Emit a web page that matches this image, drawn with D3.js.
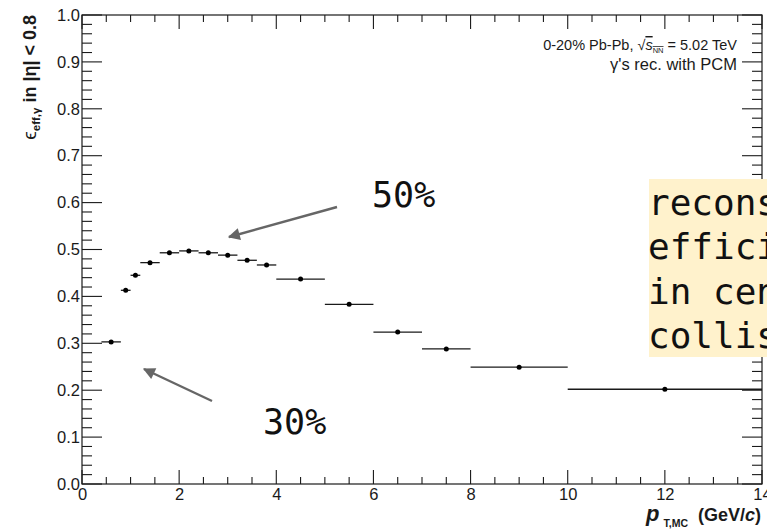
<!DOCTYPE html>
<html>
<head>
<meta charset="utf-8">
<script src="https://cdn.jsdelivr.net/npm/d3@7"></script>
<style>
  html, body { margin: 0; padding: 0; background: #fff; }
  svg { display: block; }
</style>
</head>
<body>
<svg id="chart" width="767" height="531"></svg>
<script>
// Photon reconstruction efficiency per pT bin (bin edges, centre, value)
const binLow    = [0.4, 0.8, 1.0, 1.2, 1.6, 2.0, 2.4, 2.8, 3.2, 3.6, 4.0, 5.0, 6.0, 7.0, 8.0, 10.0];
const binHigh   = [0.8, 1.0, 1.2, 1.6, 2.0, 2.4, 2.8, 3.2, 3.6, 4.0, 5.0, 6.0, 7.0, 8.0, 10.0, 14.0];
const ptCenter  = [0.6, 0.9, 1.1, 1.4, 1.8, 2.2, 2.6, 3.0, 3.4, 3.8, 4.5, 5.5, 6.5, 7.5, 9.0, 12.0];
const efficiency = [0.303, 0.413, 0.445, 0.472, 0.493, 0.497, 0.493, 0.488, 0.477, 0.467, 0.437, 0.383, 0.324, 0.288, 0.249, 0.202];

// Axis ticks
const xMajorTicks = [0, 2, 4, 6, 8, 10, 12, 14];
const xMinorTicks = [0.5, 1, 1.5, 2.5, 3, 3.5, 4.5, 5, 5.5, 6.5, 7, 7.5, 8.5, 9, 9.5, 10.5, 11, 11.5, 12.5, 13, 13.5];
const yMajorTicks = [0, 0.1, 0.2, 0.3, 0.4, 0.5, 0.6, 0.7, 0.8, 0.9, 1.0];
const yMinorTicks = [0.02, 0.04, 0.06, 0.08, 0.12, 0.14, 0.16, 0.18, 0.22, 0.24, 0.26, 0.28,
                     0.32, 0.34, 0.36, 0.38, 0.42, 0.44, 0.46, 0.48, 0.52, 0.54, 0.56, 0.58,
                     0.62, 0.64, 0.66, 0.68, 0.72, 0.74, 0.76, 0.78, 0.82, 0.84, 0.86, 0.88,
                     0.92, 0.94, 0.96, 0.98];

// Annotations
const noteLabels = ["50%", "30%"];
const noteLines = ["reconstruction", "efficiency", "in central", "collisions"];
const systemLabel = ["0-20% Pb-Pb, ", "s", "NN", " = 5.02 TeV"];
const methodLabel = "\u03b3's rec. with PCM";

const svg = d3.select("#chart");
const W = 767, H = 531;
const margin = { left: 82, right: 5, top: 15, bottom: 47 };
const x = d3.scaleLinear().domain([0, 14]).range([margin.left, W - margin.right]);
const y = d3.scaleLinear().domain([0, 1]).range([H - margin.bottom, margin.top]);

const ink = "#1a1a1a";
const sans = "'Liberation Sans', Arial, Helvetica, sans-serif";
const mono = "'DejaVu Sans Mono', monospace";

// ---- frame ----
svg.append("rect")
  .attr("x", x(0)).attr("y", y(1))
  .attr("width", x(14) - x(0)).attr("height", y(0) - y(1))
  .attr("fill", "none").attr("stroke", ink).attr("stroke-width", 1.2);

// ---- tick marks on all four sides (pointing inwards) ----
const tickG = svg.append("g").attr("stroke", ink).attr("stroke-width", 1.1);
function xTicks(vals, len) {
  tickG.append("g").selectAll("line").data(vals).join("line")
    .attr("x1", d => x(d)).attr("x2", d => x(d))
    .attr("y1", y(0)).attr("y2", y(0) - len);
  tickG.append("g").selectAll("line").data(vals).join("line")
    .attr("x1", d => x(d)).attr("x2", d => x(d))
    .attr("y1", y(1)).attr("y2", y(1) + len);
}
function yTicks(vals, len) {
  tickG.append("g").selectAll("line").data(vals).join("line")
    .attr("y1", d => y(d)).attr("y2", d => y(d))
    .attr("x1", x(0)).attr("x2", x(0) + len);
  tickG.append("g").selectAll("line").data(vals).join("line")
    .attr("y1", d => y(d)).attr("y2", d => y(d))
    .attr("x1", x(14)).attr("x2", x(14) - len);
}
xTicks(xMinorTicks, 7);
xTicks(xMajorTicks, 14);
yTicks(yMinorTicks, 10);
yTicks(yMajorTicks, 20);

// ---- tick labels through d3 axes (no tick lines, no domain) ----
const xAxisG = svg.append("g").attr("transform", `translate(0,${y(0)})`)
  .call(d3.axisBottom(x).tickValues(xMajorTicks).tickSize(0).tickPadding(4).tickFormat(d3.format("d")));
const yAxisG = svg.append("g").attr("transform", `translate(${x(0)},0)`)
  .call(d3.axisLeft(y).tickValues(yMajorTicks).tickSize(0).tickPadding(2).tickFormat(d3.format(".1f")));
[xAxisG, yAxisG].forEach(g => {
  g.select(".domain").remove();
  g.selectAll("line").remove();
  g.selectAll("text").attr("fill", ink).attr("font-size", 16.5).attr("font-family", sans);
});

// ---- data points with horizontal bin-width bars ----
const points = ptCenter.map((c, i) => ({ c, lo: binLow[i], hi: binHigh[i], v: efficiency[i] }));
const pts = svg.append("g");
pts.selectAll("line.bin").data(points).join("line")
  .attr("class", "bin")
  .attr("x1", d => x(d.lo)).attr("x2", d => x(d.hi))
  .attr("y1", d => y(d.v)).attr("y2", d => y(d.v))
  .attr("stroke", ink).attr("stroke-width", 1.3);
pts.selectAll("circle").data(points).join("circle")
  .attr("cx", d => x(d.c)).attr("cy", d => y(d.v)).attr("r", 2.5)
  .attr("fill", "#000");

// ---- axis titles ----
const yTitle = svg.append("text")
  .attr("transform", `translate(36,${y(1)}) rotate(-90)`)
  .attr("text-anchor", "end")
  .attr("font-family", sans).attr("fill", ink);
yTitle.append("tspan").attr("font-size", 19).text("\u03f5");
yTitle.append("tspan").attr("font-size", 11.5).attr("font-weight", "bold").attr("dy", 4).text("eff,\u03b3");
yTitle.append("tspan").attr("font-size", 18).attr("font-weight", "bold").attr("dy", -4).text(" in |\u03b7| < 0.8");

const xTitle = svg.append("text")
  .attr("x", 761).attr("y", 521)
  .attr("text-anchor", "end")
  .attr("font-family", sans).attr("font-weight", "bold").attr("fill", ink);
xTitle.append("tspan").attr("font-size", 22).attr("font-style", "italic").text("p");
xTitle.append("tspan").attr("font-size", 10.5).attr("dx", 4).attr("dy", 6).text("T,MC");
xTitle.append("tspan").attr("font-size", 18).attr("dy", -6).text("\u00a0 (GeV/");
xTitle.append("tspan").attr("font-size", 18).attr("font-style", "italic").text("c");
xTitle.append("tspan").attr("font-size", 18).text(")");

// ---- collision system label ----
const sys = svg.append("text")
  .attr("x", 737).attr("y", 50)
  .attr("text-anchor", "end")
  .attr("font-family", sans).attr("font-size", 14.5).attr("fill", ink);
sys.append("tspan").text(systemLabel[0] + "\u221a");
sys.append("tspan").attr("font-style", "italic").style("text-decoration", "overline").text(systemLabel[1]);
sys.append("tspan").attr("font-size", 7.5).attr("dy", 3).style("text-decoration", "overline").text(systemLabel[2]);
sys.append("tspan").attr("dy", -3).text(systemLabel[3]);

svg.append("text")
  .attr("x", 737).attr("y", 70)
  .attr("text-anchor", "end")
  .attr("font-family", sans).attr("font-size", 16.5).attr("fill", ink)
  .text(methodLabel);

// ---- arrows and percentage labels ----
const defs = svg.append("defs");
defs.append("marker")
  .attr("id", "head")
  .attr("viewBox", "0 0 10 10")
  .attr("refX", 9).attr("refY", 5)
  .attr("markerWidth", 6).attr("markerHeight", 5)
  .attr("markerUnits", "strokeWidth")
  .attr("orient", "auto")
  .append("path").attr("d", "M0,0 L10,5 L0,10 Z").attr("fill", "#666");

const arrows = [
  { from: [337, 207], to: [229, 237] },
  { from: [212, 401], to: [144, 369] }
];
svg.append("g").selectAll("line").data(arrows).join("line")
  .attr("x1", d => d.from[0]).attr("y1", d => d.from[1])
  .attr("x2", d => d.to[0]).attr("y2", d => d.to[1])
  .attr("stroke", "#666").attr("stroke-width", 2.4)
  .attr("marker-end", "url(#head)");

const labelPos = [[372, 207], [263, 434]];
svg.append("g").selectAll("text").data(noteLabels).join("text")
  .attr("x", (d, i) => labelPos[i][0]).attr("y", (d, i) => labelPos[i][1])
  .attr("font-family", mono).attr("font-size", 35).attr("fill", "#111")
  .text(d => d);

// ---- highlighted note box ----
svg.append("rect")
  .attr("x", 649).attr("y", 179).attr("width", 200).attr("height", 178)
  .attr("fill", "#fff2cc");
svg.append("g").selectAll("text").data(noteLines).join("text")
  .attr("x", 648).attr("y", (d, i) => 215 + i * 44.3)
  .attr("font-family", mono).attr("font-size", 36).attr("fill", "#111")
  .text(d => d);
</script>
</body>
</html>
